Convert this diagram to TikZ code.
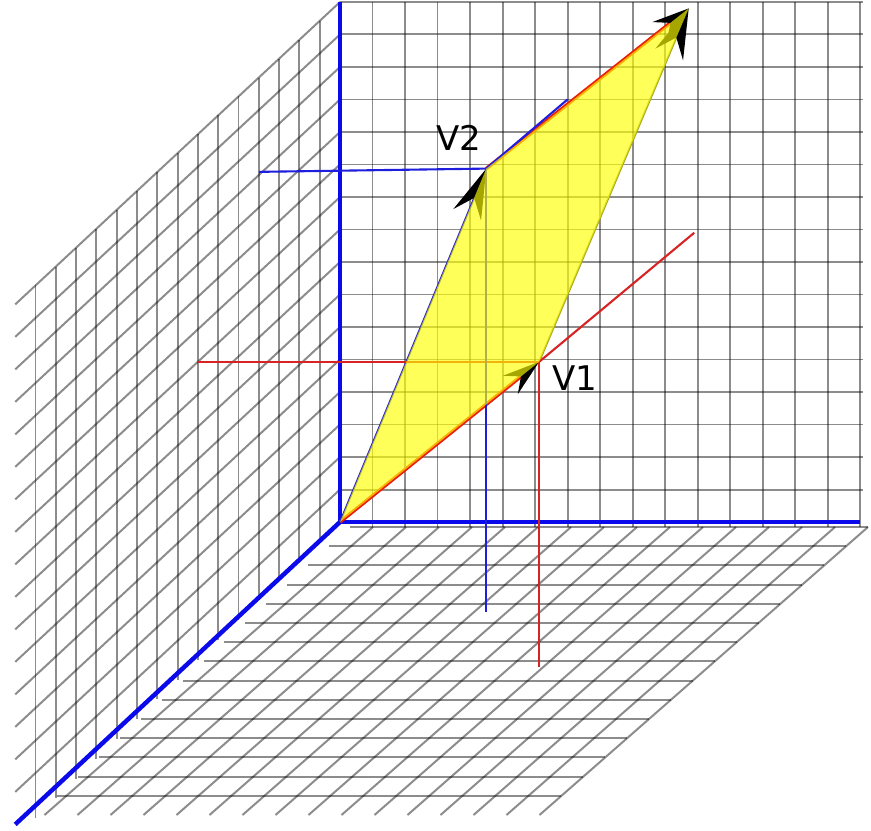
\documentclass[tikz,border=0pt]{standalone}
\usepackage{fontspec}
\setmainfont{DejaVu Sans}
\usepackage{xcolor}
\usepackage{tikz}
\usetikzlibrary{arrows.meta, positioning}

\definecolor{axisblue}{RGB}{10,10,235}
\definecolor{projred}{RGB}{215,35,35}
\definecolor{projblue}{RGB}{30,30,220}
\definecolor{vecred}{RGB}{235,30,10}
\definecolor{vecblue}{RGB}{40,40,190}
\definecolor{vecolive}{RGB}{165,165,40}
\definecolor{areayellow}{RGB}{255,255,0}

\begin{document}
\begin{tikzpicture}[
    x={(0.975cm,0cm)},
    y={(-0.609cm,-0.567cm)},
    z={(0cm,0.975cm)},
    gridline/.style={
        draw=black,
        draw opacity=0.45,
        line width=1.7pt
    },
    axis/.style={
        draw=axisblue,
        line width=3.8pt
    },
    projline/.style={
        line width=1.8pt
    },
    vecone/.style={
        draw=vecred,
        line width=3pt,
        -{Stealth[length=11mm, width=7mm, inset=4mm, color=black]}
    },
    vectwo/.style={
        line width=1.6pt,
        -{Stealth[length=15mm, width=9mm, inset=5.5mm, color=black]}
    },
    area/.style={
        fill=areayellow,
        fill opacity=0.65
    },
    vlabel/.style={
        inner sep=0pt,
        font=\fontsize{29}{32}\selectfont
    }
]
\useasboundingbox (-10.2cm,-9.24cm) rectangle (15.93cm,15.66cm);

\begin{scope}[shift={(0cm,-0.15cm)}, x={(0.99cm,0cm)}, y={(-0.657cm,-0.576cm)}]
    \foreach \i in {1,...,16}
        \draw[gridline] (\i,0) -- (\i,15);
    \foreach \j in {0,...,14}
        \draw[gridline] ({0.3+0.03*\j},\j) -- (16,\j);
\end{scope}

\foreach \k in {1,...,16}
    \draw[gridline] (0,0,\k) -- (0,16,\k);
\foreach \k in {1,...,15}
    \draw[gridline] (0,\k,16) -- (0,\k,{-0.028*(\k-1)});

\foreach \k in {1,...,16}
    \draw[gridline] (0,0,\k) -- (16.1,0,\k);
\foreach \k in {1,...,16}
    \draw[gridline] (\k,0,-0.15) -- (\k,0,16);

\coordinate (origin) at (0,0,0);
\coordinate (xend) at (16,0,0);
\coordinate (yend) at (0,16,0);
\coordinate (zend) at (0,0,16);

\coordinate (v1) at (10.5,7,9);
\coordinate (v2) at (7,4,13.2);
\coordinate (sum) at (17.6,11,22.2);

\coordinate (v1wall) at (0,7,9);
\coordinate (v1back) at (10.9,0,8.9);
\coordinate (v1floor) at (10.5,7,-0.4);
\coordinate (v2wall) at (0,4,13.1);
\coordinate (v2back) at (7,0,13);
\coordinate (v2floor) at (7,4,-0.45);

\draw[axis] (origin) -- (xend);
\draw[axis] (origin) -- (yend);
\draw[axis] (origin) -- (zend);

\draw[vecone] (origin) -- (v1);
\draw[vecone] (v2) -- (sum);
\draw[vectwo, vecblue] (origin) -- (v2);
\draw[vectwo, vecolive] (v1) -- (sum);

\draw[projline, projred] (v1) -- (v1wall);
\draw[projline, projred] (v1) -- (v1back);
\draw[projline, projred] (v1) -- (v1floor);
\draw[projline, projblue] (v2) -- (v2wall);
\draw[projline, projblue] (v2) -- (v2back);
\draw[projline, projblue] (v2) -- (v2floor);

\fill[area] (origin) -- (v1) -- (sum) -- (v2) -- cycle;

\node[vlabel, above left=0.55cm and 0.15cm of v2] (v2label) {V2};
\node[vlabel, below right=0.1cm and 0.4cm of v1] (v1label) {V1};
\end{tikzpicture}
\end{document}
